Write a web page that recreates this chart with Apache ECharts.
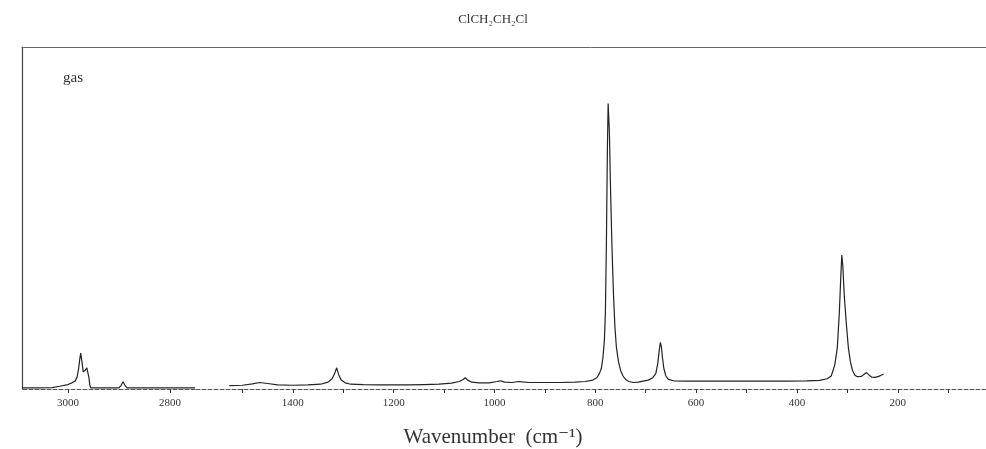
<!DOCTYPE html>
<html>
<head>
<meta charset="utf-8">
<script src="https://cdn.jsdelivr.net/npm/echarts@6/dist/echarts.min.js"></script>
<style>
  html, body { margin: 0; padding: 0; background: #fff; }
  #main { width: 986px; height: 449px; }
</style>
</head>
<body>
<div id="main"></div>
<script>
// 拉曼光谱 ClCH2CH2Cl (gas)，横轴断开：3090-2751 与 1594-25

// 左段 (C-H 伸缩区)
const wnLeft = [3090, 3060, 3031, 3016, 3000, 2992, 2986, 2982, 2979, 2977, 2975, 2973, 2970, 2968, 2966, 2963, 2961, 2959, 2957, 2955, 2935, 2900, 2896, 2892, 2888, 2884, 2800, 2751];
const intLeft = [0.3, 0.3, 0.4, 0.8, 1.3, 1.8, 2.3, 3.5, 6, 8.5, 10.5, 8.5, 5, 4.8, 5.5, 6.2, 6.0, 3.5, 1, 0.3, 0.3, 0.3, 1.0, 2.1, 1.0, 0.3, 0.3, 0.3];

// 右段 (1526-228)
const wnRight = [1526, 1500, 1480, 1466, 1450, 1430, 1400, 1370, 1345, 1330, 1322, 1317, 1313, 1309, 1304, 1296, 1285, 1260, 1230, 1200, 1170, 1140, 1110, 1085, 1070, 1062, 1058, 1053, 1045, 1030, 1010, 995, 988, 980, 965, 952, 945, 930, 900, 870, 840, 820, 805, 797, 792, 788, 785, 782, 780, 778, 776, 774.5, 772, 770, 767, 764, 761, 758, 754, 750, 745, 740, 733, 725, 715, 705, 695, 686, 680, 676, 673, 671, 669, 667, 664, 660, 655, 645, 620, 580, 540, 500, 460, 420, 380, 355, 340, 332, 325, 320, 316, 313, 311, 309, 306, 302, 298, 294, 290, 285, 280, 272, 266, 262, 258, 252, 245, 238, 232, 228];
const intRight = [1.0, 1.1, 1.5, 1.9, 1.6, 1.2, 1.1, 1.2, 1.4, 2.0, 3.0, 4.5, 6.2, 4.2, 2.6, 1.8, 1.4, 1.3, 1.2, 1.2, 1.2, 1.3, 1.4, 1.7, 2.2, 2.8, 3.3, 2.6, 2.0, 1.8, 1.8, 2.2, 2.4, 2.0, 1.9, 2.2, 2.1, 1.9, 1.9, 1.9, 2.0, 2.2, 2.6, 3.3, 4.5, 6, 9, 14, 22, 42, 70, 83.5, 75, 60, 42, 28, 18, 12, 8, 5.5, 3.8, 2.8, 2.2, 1.9, 2.0, 2.3, 2.6, 3.3, 4.5, 7.5, 11.5, 13.6, 12.5, 9.5, 6, 3.8, 2.8, 2.4, 2.3, 2.3, 2.3, 2.3, 2.3, 2.3, 2.4, 2.5, 3.0, 3.8, 7, 12, 22, 33, 39.2, 36, 27, 19, 12, 8, 5.5, 4, 3.6, 3.7, 4.4, 4.8, 4.2, 3.5, 3.4, 3.7, 4.1, 4.4];

// 刻度
const tickLeft = [3000, 2800];
const labelLeft = [3000, 2800];
const tickRight = [1500, 1400, 1300, 1200, 1100, 1000, 900, 800, 700, 600, 500, 400, 300, 200, 100];
const labelRight = [1400, 1200, 1000, 800, 600, 400, 200];

const serif = "'Liberation Serif', 'DejaVu Serif', serif";
const lineColor = '#222';
const axisColor = '#555';

const zip = (xs, ys) => xs.map((x, i) => [x, ys[i]]);

const chart = echarts.init(document.getElementById('main'));

const bottomAxis = (gridIndex, min, max, ticks, labels) => ({
  type: 'value',
  gridIndex,
  position: 'bottom',
  inverse: true,
  min,
  max,
  axisLine: { show: true, onZero: false, lineStyle: { color: axisColor, width: 1, type: [4, 2] } },
  axisTick: { show: true, inside: false, length: 4, customValues: ticks, lineStyle: { color: '#333' } },
  axisLabel: {
    show: true, customValues: labels, margin: 9,
    formatter: v => String(v),
    fontFamily: serif, fontSize: 11, color: '#333'
  },
  splitLine: { show: false }
});

const topAxis = (gridIndex, min, max) => ({
  type: 'value',
  gridIndex,
  position: 'top',
  inverse: true,
  min,
  max,
  axisLine: { show: true, onZero: false, lineStyle: { color: '#666', width: 1 } },
  axisTick: { show: false },
  axisLabel: { show: false },
  splitLine: { show: false }
});

const option = {
  backgroundColor: '#fff',
  animation: false,
  title: [
    {
      text: 'ClCH₂CH₂Cl',
      left: 'center',
      top: 8,
      textStyle: { fontFamily: serif, fontSize: 13, fontWeight: 'normal', color: '#333' }
    },
    {
      text: 'Wavenumber  (cm⁻¹)',
      left: 'center',
      top: 422,
      textStyle: { fontFamily: serif, fontSize: 21, fontWeight: 'normal', color: '#333' }
    }
  ],
  graphic: [
    {
      type: 'text',
      left: 63,
      top: 71,
      style: { text: 'gas', fontFamily: serif, fontSize: 15, fill: '#333' }
    }
  ],
  grid: [
    { left: 22, top: 47, width: 173, bottom: 60 },
    { left: 195, top: 47, width: 791, bottom: 60 }
  ],
  xAxis: [
    bottomAxis(0, 2751, 3090, tickLeft, labelLeft),
    bottomAxis(1, 25, 1594, tickRight, labelRight),
    topAxis(0, 2751, 3090),
    topAxis(1, 25, 1594)
  ],
  yAxis: [
    {
      type: 'value', gridIndex: 0, min: 0, max: 100,
      axisLine: { show: true, lineStyle: { color: '#444', width: 1.2 } },
      axisTick: { show: false }, axisLabel: { show: false }, splitLine: { show: false }
    },
    {
      type: 'value', gridIndex: 1, min: 0, max: 100, show: false,
      splitLine: { show: false }
    }
  ],
  series: [
    {
      type: 'line',
      xAxisIndex: 0,
      yAxisIndex: 0,
      data: zip(wnLeft, intLeft),
      showSymbol: false,
      lineStyle: { color: lineColor, width: 1.2 }
    },
    {
      type: 'line',
      xAxisIndex: 1,
      yAxisIndex: 1,
      data: zip(wnRight, intRight),
      showSymbol: false,
      lineStyle: { color: lineColor, width: 1.2 }
    }
  ]
};

chart.setOption(option);
</script>
</body>
</html>
